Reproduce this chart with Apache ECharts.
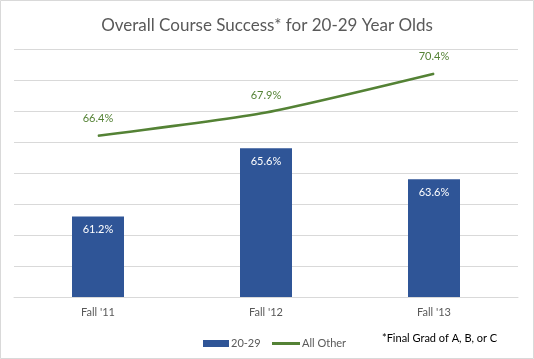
<!DOCTYPE html>
<html>
<head>
<meta charset="utf-8">
<script src="https://cdn.jsdelivr.net/npm/echarts@6/dist/echarts.min.js"></script>
<style>
html,body{margin:0;padding:0;background:#fff;}
#c{width:534px;height:359px;}
</style>
</head>
<body>
<div id="c"></div>
<script>
const titleText = 'Overall Course Success* for 20-29 Year Olds';
const categories = ["Fall '11", "Fall '12", "Fall '13"];
const ages2029 = [61.2, 65.6, 63.6];
const allOther = [66.4, 67.9, 70.4];
const seriesNames = ['20-29', 'All Other'];
const footnote = '*Final Grad of A, B, or C';

const FONT = 'Lato, "Open Sans", sans-serif';
const chart = echarts.init(document.getElementById('c'), null, {renderer: 'canvas'});
const legendText = {color: '#595959', fontFamily: FONT, fontSize: 11, padding: [0, 0, 0, -3]};
chart.setOption({
  backgroundColor: '#fff',
  animation: false,
  title: {
    text: titleText,
    left: 'center',
    top: 12,
    textStyle: {fontFamily: FONT, fontSize: 17, fontWeight: 'normal', color: '#595959'}
  },
  grid: {left: 14, right: 16, top: 49, bottom: 62},
  xAxis: {
    type: 'category',
    data: categories,
    axisLine: {lineStyle: {color: '#d9d9d9'}},
    axisTick: {show: false},
    axisLabel: {color: '#595959', fontFamily: FONT, fontSize: 11, margin: 10}
  },
  yAxis: {
    type: 'value',
    min: 56, max: 72, interval: 2,
    axisLabel: {show: false},
    axisLine: {show: false},
    axisTick: {show: false},
    splitLine: {lineStyle: {color: '#d9d9d9', width: 1}}
  },
  legend: [
    {
      left: 198, top: 333, itemWidth: 26, itemHeight: 7,
      data: [{name: seriesNames[0], icon: 'rect'}],
      textStyle: legendText
    },
    {
      left: 267, top: 333, itemWidth: 28, itemHeight: 3,
      data: [{name: seriesNames[1], icon: 'rect'}],
      textStyle: legendText
    }
  ],
  series: [
    {
      name: seriesNames[0],
      type: 'bar',
      data: ages2029,
      barWidth: 52,
      itemStyle: {color: '#2f5597'},
      label: {
        show: true, position: 'insideTop', distance: 8,
        formatter: p => p.value.toFixed(1) + '%',
        color: '#fff', fontFamily: FONT, fontSize: 11
      }
    },
    {
      name: seriesNames[1],
      type: 'line',
      data: allOther,
      smooth: 0.2,
      symbol: 'circle',
      symbolSize: 1,
      showSymbol: true,
      lineStyle: {color: '#548235', width: 2.5},
      itemStyle: {color: '#548235'},
      label: {
        show: true, position: 'top', distance: 11,
        formatter: p => p.value.toFixed(1) + '%',
        color: '#548235', fontFamily: FONT, fontSize: 11
      }
    }
  ],
  graphic: [
    {type: 'rect', shape: {x: 0.5, y: 0.5, width: 533, height: 358}, style: {fill: 'none', stroke: '#d9d9d9', lineWidth: 1}, z: 100},
    {type: 'text', left: 382, top: 333, style: {text: footnote, fill: '#000', font: '11px ' + FONT}}
  ]
});
</script>
</body>
</html>
